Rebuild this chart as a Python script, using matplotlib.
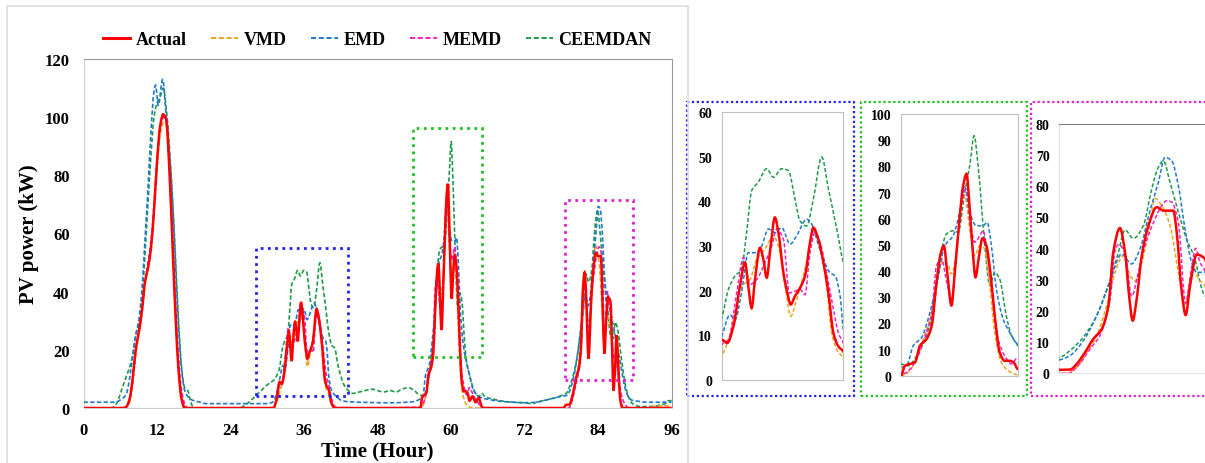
import matplotlib
matplotlib.use("Agg")
import matplotlib.pyplot as plt
import numpy as np
from matplotlib.patches import Rectangle, PathPatch
from matplotlib.path import Path
from matplotlib.lines import Line2D

plt.rcParams["font.family"] = ["Liberation Serif", "DejaVu Serif"]
plt.rcParams["font.weight"] = "bold"

# ---- data (hour, kW) ----
actual_t = [0, 6.5, 7, 7.5, 8, 8.5, 9, 9.5, 10, 10.5, 11, 11.5, 12, 12.5, 13, 13.5, 14, 14.5, 15, 15.5, 16, 16.5,
            31, 31.5, 32.0, 32.37, 32.77, 33.2, 33.53, 33.75, 33.97, 34.19, 34.52, 34.74, 34.96, 35.22, 35.5, 35.73,
            36.06, 36.32, 36.54, 36.82, 37.15, 37.48, 37.81, 38.03, 38.36, 38.69, 39.02, 39.35, 39.68, 40.0, 40.5, 41,
            55, 55.27, 55.61, 55.95, 56.3, 56.75, 57.1, 57.43, 57.73, 57.93, 58.16, 58.45, 58.68, 58.98, 59.25, 59.48,
            59.7, 59.93, 60.09, 60.34, 60.57, 60.84, 61.11, 61.41, 61.75, 62.09, 62.43, 62.7, 63.0, 63.5, 64, 64.5, 65,
            65.5, 78.3, 78.8, 79.33, 79.66, 80.07, 80.48, 80.9, 81.23, 81.47, 81.8, 82.05, 82.27, 82.43, 82.63, 82.88,
            83.21, 83.62, 83.95, 84.44, 84.61, 84.86, 85.05, 85.27, 85.6, 86.01, 86.3, 86.5, 86.8, 87.0, 87.3, 87.6, 88, 96]
actual_kw = [0, 0, 0.5, 3, 10, 20, 26, 33, 43, 48, 55, 68, 85, 97, 101, 99, 82, 57, 32, 13, 3, 0,
             0, 3, 9.0, 8.3, 12, 21, 26.3, 21, 16.1, 22.5, 29.6, 27, 22.9, 30, 36.4, 33,
             24, 19.5, 16.9, 18.8, 20.6, 23.3, 30.8, 34.1, 31.5, 26.3, 19.5, 10.5, 7.5, 6.4, 1.5, 0,
             0, 3.8, 4.5, 5.1, 11.5, 14, 19.1, 35.7, 47.1, 49.7, 39.5, 26.8, 39.5, 58.6, 72.6, 77.1,
             63.7, 45.9, 37.6, 45.9, 52.5, 49.7, 39.5, 22.9, 8.9, 5.7, 5.7, 5.1, 2.5, 4, 2, 3.5, 0.5,
             0, 0, 1.1, 1.2, 3, 6.7, 11, 14.2, 21.7, 38.8, 46.6, 38.8, 23.9, 16.9, 23.9, 37.8,
             47.4, 53.3, 52.2, 52.2, 45.2, 26, 18.7, 28.1, 38.1, 36.7, 20, 6, 15, 25, 15, 3, 0, 0]

vmd_t = [0, 6.5, 7, 7.5, 8, 8.5, 9, 9.5, 10, 10.5, 11, 11.5, 12, 12.5, 13, 13.5, 14, 14.5, 15, 15.5, 16, 16.5, 17,
         31, 31.5, 32.0, 32.44, 32.88, 33.3, 33.86, 34.3, 34.85, 35.4, 35.73, 36.17, 36.54, 36.93, 37.37, 37.81, 38.03,
         38.47, 38.9, 39.24, 39.57, 40.0, 40.5, 41,
         55, 55.5, 55.95, 56.52, 57.1, 57.55, 57.93, 58.23, 58.45, 58.75, 59.07, 59.36, 59.7, 60.05, 60.39, 60.73,
         61.07, 61.41, 61.86, 62.43, 63, 63.5,
         78.8, 79.16, 79.66, 80.15, 80.65, 81.14, 81.56, 81.97, 82.3, 82.55, 82.88, 83.21, 83.54, 83.87, 84.28, 84.69,
         85.02, 85.43, 85.68, 86.0, 86.5, 87, 87.5, 88, 88.5, 92, 93, 96]
vmd_kw = [0, 0, 0.3, 2, 8, 18, 25, 32, 42, 49, 56, 68, 83, 94, 98, 97, 84, 60, 35, 15, 4, 0.5, 0,
          0, 2, 5.3, 9, 15, 21, 22.5, 27, 29.3, 32.3, 30, 21, 14.3, 18, 23.3, 30, 33.8,
          30, 21, 10.5, 6.8, 4.9, 1, 0,
          0, 1.3, 5.1, 14, 24.2, 39.5, 43.9, 42, 38.9, 44.6, 63.7, 68.8, 56, 45.9, 49.7, 48.4,
          34.4, 16.6, 5.1, 1.5, 0.3, 0,
          0, 0, 1.9, 6.7, 12, 21.7, 32.4, 37.8, 31.3, 29.7, 35.6, 45.2, 56.1, 53.8, 47.4, 32.4,
          22.2, 34, 30.3, 28.1, 12, 15, 5, 0.5, 0, 0, 0.6, 0.8]

emd_t = [0, 5, 5.5, 6, 6.5, 7, 7.5, 8, 8.5, 9, 9.5, 10, 10.5, 11, 11.5, 11.75, 12.2, 12.9, 13.5, 14, 14.5, 15, 15.5,
         16, 16.5, 17, 17.5, 18, 19, 20, 30, 31, 31.5,
         32, 32.55, 32.88, 33.3, 33.75, 34.3, 34.63, 35.07, 35.5, 35.95, 36.5, 36.93, 37.59, 37.92, 38.25, 38.69,
         39.13, 39.46, 39.79, 40, 40.5, 41, 41.5, 42, 43, 50, 54,
         55, 55.39, 55.84, 56.41, 56.98, 57.43, 58, 58.57, 58.91, 59.36, 59.7, 60.16, 60.61, 60.89, 61.18, 61.52,
         61.98, 62.43, 63, 63.5, 64, 65, 66, 68, 70, 72, 74, 75, 76, 77, 78,
         78.8, 79.33, 79.99, 80.65, 81.31, 81.89, 82.38, 82.79, 83.29, 83.7, 84.03, 84.36, 84.69, 85.02, 85.35, 85.6,
         86, 86.5, 87, 87.5, 88, 88.5, 89, 89.5, 90, 92, 96]
emd_kw = [2, 2, 2.2, 2.8, 3.5, 5, 10, 18, 25, 30, 40, 57, 75, 95, 109, 111, 104, 113, 100, 88, 72, 50, 28,
          13, 6, 4, 3, 2.5, 2, 1.5, 1.5, 2.2, 5,
          9.75, 14.6, 13.5, 19.5, 28.5, 28.5, 30, 33.8, 33, 34.1, 30.4, 32.3, 36, 34.9, 31.5, 27,
          24, 23.3, 18.8, 11.3, 6, 4.5, 3.5, 2.7, 2.2, 1.8, 2.2,
          3.2, 3.8, 11.5, 14.6, 24.2, 34.4, 49.7, 53.5, 59.9, 72, 62.4, 57.3, 57.3, 58.6, 49.7, 33.1,
          21.7, 16.6, 11.5, 7, 5, 3.5, 3, 2.3, 2, 1.8, 2, 2.5, 3, 3.5, 4,
          4.3, 5.7, 10.5, 18.5, 29.7, 38.3, 35.1, 39.9, 52.2, 61.3, 69.3, 68.2, 60.2, 46.3, 35.6, 32.4,
          32.4, 28, 22.7, 17, 11, 6, 3.7, 2.7, 2.5, 2, 2]

memd_t = [0, 6.5, 7, 7.5, 8, 8.5, 9, 9.5, 10, 10.5, 11, 11.5, 12, 12.5, 13, 13.5, 14, 14.5, 15, 15.5, 16, 16.5, 17,
          31, 31.5, 32, 32.44, 32.99, 33.43, 33.86, 34.3, 34.85, 35.29, 35.62, 36.06, 36.45, 36.82, 37.15, 37.48,
          37.81, 38.14, 38.47, 38.9, 39.35, 39.68, 40, 40.5, 41, 41.5,
          55, 55.5, 55.95, 56.52, 57.1, 57.43, 57.77, 58.11, 58.45, 58.8, 59.14, 59.43, 59.7, 60.05, 60.39, 60.61,
          60.95, 61.3, 61.64, 62.09, 62.55, 63, 63.5, 64, 64.5, 65,
          78.8, 79.25, 79.74, 80.32, 80.81, 81.31, 81.56, 81.72, 82.05, 82.38, 82.71, 83.04, 83.46, 83.87, 84.12,
          84.37, 84.69, 85.05, 85.3, 85.55, 85.76, 86.0, 86.5, 87, 87.5, 88, 88.5, 89, 96]
memd_kw = [0, 0, 0.5, 3, 9, 19, 26, 33, 43, 50, 57, 70, 86, 96, 100, 98, 86, 62, 37, 17, 6, 1.5, 0,
           0, 3, 7.9, 9, 19.5, 27.4, 21.4, 22.5, 26.3, 30, 33.8, 31.5, 19.5, 19.9, 20.3, 19.1,
           28.5, 33, 30.8, 24, 15.8, 10.5, 8.3, 3, 0.5, 0,
           0.3, 1.9, 5.1, 12.7, 24.2, 42, 44.6, 36.3, 29.3, 48.4, 65, 71.3, 59.9, 51, 53.5, 55.4,
           44.6, 28, 14, 7.6, 4.5, 7, 5, 3, 1.5, 0,
           0, 0, 2.5, 7.8, 12.1, 23.9, 39.4, 41.3, 38.8, 24.7, 32.4, 41, 48.4, 53.8, 55.4,
           54.9, 48.4, 22.5, 32, 40.1, 35.6, 32.9, 18, 16, 8, 3, 1, 0, 0]

ceemdan_t = [0, 4.5, 5, 5.5, 6, 6.5, 7, 7.5, 8, 8.5, 9, 9.5, 10, 10.5, 11, 11.5, 12, 12.5, 13, 13.5, 14, 14.5, 15,
             15.5, 16, 16.5, 17, 17.5, 18, 25.5, 26, 27, 28, 29, 30, 31, 31.5,
             32, 32.44, 32.88, 33.3, 33.64, 33.97, 34.41, 34.96, 35.4, 35.95, 36.39, 36.82, 37.15, 37.59, 38.03, 38.58,
             39.02, 39.57, 40, 40.5, 41, 41.5, 42, 42.5, 43, 44, 45, 46, 47, 48, 49, 50, 51, 52, 53, 54, 54.5,
             55, 55.5, 56.07, 56.64, 57.2, 57.66, 58.11, 58.57, 58.91, 59.36, 59.7, 60, 60.27, 60.73, 61.07, 61.41,
             61.75, 62.2, 62.55, 63, 63.5, 64, 64.5, 65, 65.5, 66, 67, 68, 70, 72, 73, 74, 75, 76, 77, 78,
             78.8, 79.33, 79.99, 80.65, 81.31, 81.72, 82.05, 82.46, 82.96, 83.37, 83.7, 83.95, 84.28, 84.69, 85.1,
             85.51, 85.85, 86, 86.5, 86.8, 87.2, 87.8, 88.6, 89.4, 90, 91, 93, 94, 95, 95.5, 96]
ceemdan_kw = [0, 0, 0.5, 2, 5, 8, 11, 14, 18, 25, 29, 36, 52, 70, 87, 100, 105, 107, 110, 103, 90, 73, 52,
              30, 14, 7, 6, 2, 0, 0, 0.5, 2, 4, 6, 8, 9.5, 11,
              13.9, 20.3, 23.3, 24.8, 33, 42.4, 44.3, 47.3, 45.4, 47.3, 46.9, 40.5, 35.6, 34.5, 40.5, 49.9,
              42.8, 33.8, 26.3, 21.5, 20.6, 15, 11, 8, 6.5, 5, 5.5, 6, 6.5, 6, 5.5, 6, 5.5, 6.5, 7, 6, 5,
              4.5, 3.8, 7.6, 14, 24.2, 44.6, 54.1, 55.4, 54.8, 70.1, 80.3, 91.7, 80.3, 49.7, 34.4, 39.5,
              36.9, 22.9, 15.3, 11.5, 7.5, 5, 4, 5, 4, 3.5, 3, 2.5, 2, 1.8, 1.5, 2, 2.5, 3, 3.5, 4.3,
              5, 7.3, 11.6, 18.5, 29.7, 38.8, 46, 43.3, 47.4, 59.1, 66.1, 68.2, 61.3, 51.7, 43.1,
              36.7, 27.1, 24.9, 24, 29.5, 27, 17, 6.5, 2, 1, 0.5, 0.5, 1, 1.5, 2.5, 2.5]

labels = ["Actual", "VMD", "EMD", "MEMD", "CEEMDAN"]
colors = ["#FF0000", "#EDA21A", "#1E78D0", "#F020C8", "#1F9A48"]
series = [(actual_t, actual_kw), (vmd_t, vmd_kw), (emd_t, emd_kw),
          (memd_t, memd_kw), (ceemdan_t, ceemdan_kw)]

# dotted boxes on the main chart (t0, t1, y0, y1)
boxes = [(28.1, 43.2, 4.0, 54.9, "#2222EE"),
         (53.8, 65.0, 17.4, 96.4, "#22C022"),
         (78.6, 89.7, 9.7, 71.5, "#E020D0")]
inset_x = [(32, 40), (55, 63), (78.8, 86.8)]
inset_y = [60, 100, 80]

W, H = 1205, 464
fig = plt.figure(figsize=(W / 100, H / 100), dpi=100)


def px(x0, y0, x1, y1):
    return [x0 / W, 1 - y1 / H, (x1 - x0) / W, (y1 - y0) / H]


def smooth_path(t, v):
    # excel-like smoothed line: cubic bezier through the points, shape-preserving tangents
    x = np.asarray(t, float)
    y = np.asarray(v, float)
    h = np.diff(x)
    d = np.diff(y) / h
    m = np.zeros_like(y)
    m[0], m[-1] = d[0], d[-1]
    for k in range(1, len(x) - 1):
        if d[k - 1] * d[k] > 0:
            w1 = 2 * h[k] + h[k - 1]
            w2 = h[k] + 2 * h[k - 1]
            m[k] = (w1 + w2) / (w1 / d[k - 1] + w2 / d[k])
    verts = [(x[0], y[0])]
    codes = [Path.MOVETO]
    for k in range(len(x) - 1):
        verts += [(x[k] + h[k] / 3, y[k] + m[k] * h[k] / 3),
                  (x[k + 1] - h[k] / 3, y[k + 1] - m[k + 1] * h[k] / 3),
                  (x[k + 1], y[k + 1])]
        codes += [Path.CURVE4] * 3
    return Path(verts, codes)


def draw_lines(ax, lw_act=1.8, lw=1.2):
    for i in [4, 1, 3, 2, 0]:
        t, v = series[i]
        if i == 0:
            p = PathPatch(smooth_path(t, v), fill=False, ec=colors[i], lw=lw_act, zorder=5)
        else:
            p = PathPatch(smooth_path(t, v), fill=False, ec=colors[i], lw=lw, ls=(0, (2.6, 1.4)), zorder=3)
        ax.add_patch(p)


# panel border around main chart
for xs, ys in [([7.3, 7.3], [464, 6.7]), ([7.3, 687.7], [6.7, 6.7]), ([687.7, 687.7], [6.7, 464])]:
    fig.add_artist(Line2D([x / W for x in xs], [1 - y / H for y in ys], color="#DDDDDD", lw=1.2))

ax = fig.add_axes(px(83.6, 60, 671.6, 409))
draw_lines(ax)
ax.set_xlim(0, 96)
ax.set_ylim(0, 120)
ax.set_xticks(range(0, 97, 12))
ax.set_yticks(range(0, 121, 20))
ax.tick_params(length=0, labelsize=12, pad=10)
for s in ["top", "right"]:
    ax.spines[s].set_color("#999999")
for s in ["left", "bottom"]:
    ax.spines[s].set_color("#D0D0D0")
ax.set_xlabel("Time (Hour)", fontsize=15, fontweight="bold", labelpad=2)
ax.set_ylabel("PV power (kW)", fontsize=15, fontweight="bold", labelpad=4)
for x0, x1, y0, y1, c in boxes:
    ax.add_patch(Rectangle((x0, y0), x1 - x0, y1 - y0, fill=False, ec=c, lw=2, ls=(0, (1, 1.6)), zorder=6))

handles = [Line2D([], [], color=colors[0], lw=2.2)] + \
          [Line2D([], [], color=c, lw=1.4, dashes=(2.6, 1.4)) for c in colors[1:]]
ax.legend(handles, labels, loc="lower center", bbox_to_anchor=(0.5, 1.011), ncol=5, frameon=False,
          prop={"size": 13, "weight": "bold"}, handlelength=1.5, handletextpad=0.3, columnspacing=1.35,
          borderaxespad=0)

# dotted frames around the zoom panels
for (x0, x1), c in zip([(687, 854), (861, 1027), (1031, 1215)], [b[4] for b in boxes]):
    fig.add_artist(Rectangle((x0 / W, 1 - 397 / H), (x1 - x0) / W, 294 / H, fill=False, ec=c,
                             lw=1.6, ls=(0, (1, 1.2)), transform=fig.transFigure))

inset_pos = [px(721.7, 113, 843.3, 381), px(901, 115, 1018, 376.7), px(1059.3, 125, 1221, 374.3)]
for k in range(3):
    a = fig.add_axes(inset_pos[k])
    draw_lines(a, lw_act=1.8, lw=1.1)
    a.set_xlim(*inset_x[k])
    a.set_ylim(0, inset_y[k])
    a.set_yticks(range(0, inset_y[k] + 1, 10))
    a.set_xticks([])
    a.tick_params(length=0, labelsize=10, pad=7)
    for s in a.spines.values():
        s.set_color("#C0C0C0")
    if k == 2:
        a.spines["top"].set_color("#808080")
        a.spines["left"].set_color("#E6E6E6")
        a.spines["bottom"].set_color("#E6E6E6")

fig.savefig("out.png", dpi=100)
